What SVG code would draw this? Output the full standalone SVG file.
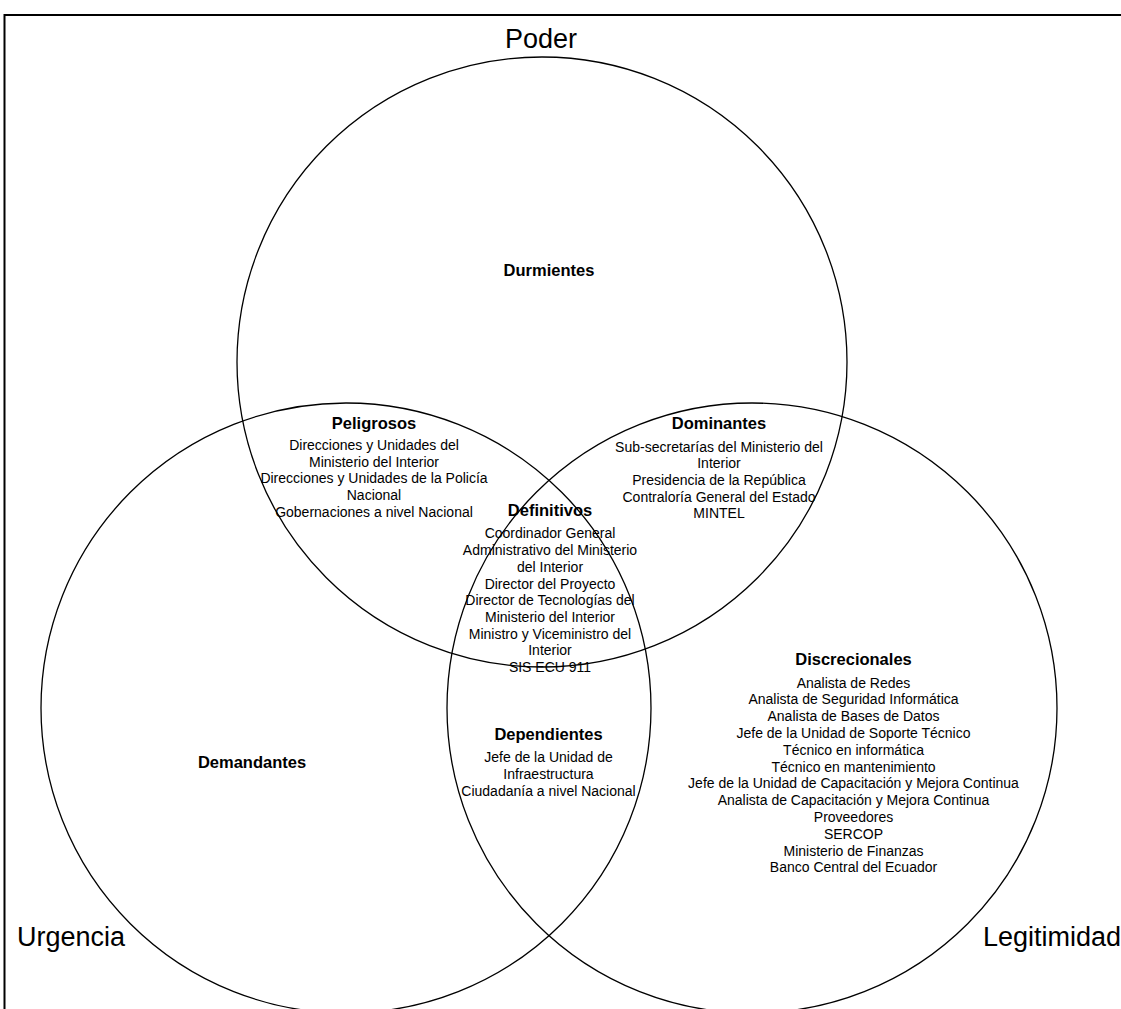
<svg xmlns="http://www.w3.org/2000/svg" width="1121" height="1009" viewBox="0 0 1121 1009">
<style>
.c{fill:none;stroke:#000;stroke-width:1.3}
.big{font-family:"Liberation Sans",Arial,sans-serif;font-size:27px;fill:#000}
.t{font-family:"Liberation Sans",Arial,sans-serif;font-size:16.5px;font-weight:bold;fill:#000;text-anchor:middle}
.b{font-family:"Liberation Sans",Arial,sans-serif;font-size:14px;fill:#000;text-anchor:middle}
</style>
<rect x="0" y="0" width="1121" height="1009" fill="#fff"/>
<rect x="4.5" y="15" width="1200" height="1100" fill="none" stroke="#000" stroke-width="2"/>
<g id="circles">
<circle id="poder" class="c" cx="542" cy="362" r="305"/>
<circle id="urgencia" class="c" cx="346" cy="708" r="305"/>
<circle id="legitimidad" class="c" cx="752" cy="708" r="305"/>
</g>
<g id="labels">
<text class="big" x="541" y="48" text-anchor="middle">Poder</text>
<text class="big" x="17" y="946">Urgencia</text>
<text class="big" x="983" y="946">Legitimidad</text>
</g>
<g id="durmientes"><text class="t" x="549" y="276">Durmientes</text></g>
<g id="peligrosos">
<text class="t" x="374" y="428.5">Peligrosos</text>
<text class="b" x="374"><tspan x="374" y="450">Direcciones y Unidades del</tspan><tspan x="374" y="466.7">Ministerio del Interior</tspan><tspan x="374" y="483.4">Direcciones y Unidades de la Policía</tspan><tspan x="374" y="500.1">Nacional</tspan><tspan x="374" y="516.8">Gobernaciones a nivel Nacional</tspan></text>
</g>
<g id="dominantes">
<text class="t" x="719" y="429">Dominantes</text>
<text class="b"><tspan x="719" y="451.5">Sub-secretarías del Ministerio del</tspan><tspan x="719" y="468.2">Interior</tspan><tspan x="719" y="484.9">Presidencia de la República</tspan><tspan x="719" y="501.6">Contraloría General del Estado</tspan><tspan x="719" y="518.3">MINTEL</tspan></text>
</g>
<g id="definitivos">
<text class="t" x="550" y="516">Definitivos</text>
<text class="b"><tspan x="550" y="538.3">Coordinador General</tspan><tspan x="550" y="555">Administrativo del Ministerio</tspan><tspan x="550" y="571.7">del Interior</tspan><tspan x="550" y="588.6">Director del Proyecto</tspan><tspan x="550" y="605.2">Director de Tecnologías del</tspan><tspan x="550" y="621.9">Ministerio del Interior</tspan><tspan x="550" y="638.6">Ministro y Viceministro del</tspan><tspan x="550" y="655.3">Interior</tspan><tspan x="550" y="672">SIS ECU 911</tspan></text>
</g>
<g id="dependientes">
<text class="t" x="548.5" y="740">Dependientes</text>
<text class="b"><tspan x="548.5" y="761.7">Jefe de la Unidad de</tspan><tspan x="548.5" y="778.9">Infraestructura</tspan><tspan x="548.5" y="796">Ciudadanía a nivel Nacional</tspan></text>
</g>
<g id="demandantes"><text class="t" x="252" y="768">Demandantes</text></g>
<g id="discrecionales">
<text class="t" x="853.5" y="665">Discrecionales</text>
<text class="b"><tspan x="853.5" y="687.5">Analista de Redes</tspan><tspan x="853.5" y="704.3">Analista de Seguridad Informática</tspan><tspan x="853.5" y="721.1">Analista de Bases de Datos</tspan><tspan x="853.5" y="737.9">Jefe de la Unidad de Soporte Técnico</tspan><tspan x="853.5" y="754.7">Técnico en informática</tspan><tspan x="853.5" y="771.5">Técnico en mantenimiento</tspan><tspan x="853.5" y="788.3">Jefe de la Unidad de Capacitación y Mejora Continua</tspan><tspan x="853.5" y="805.1">Analista de Capacitación y Mejora Continua</tspan><tspan x="853.5" y="821.9">Proveedores</tspan><tspan x="853.5" y="838.7">SERCOP</tspan><tspan x="853.5" y="855.5">Ministerio de Finanzas</tspan><tspan x="853.5" y="872.3">Banco Central del Ecuador</tspan></text>
</g>
</svg>
